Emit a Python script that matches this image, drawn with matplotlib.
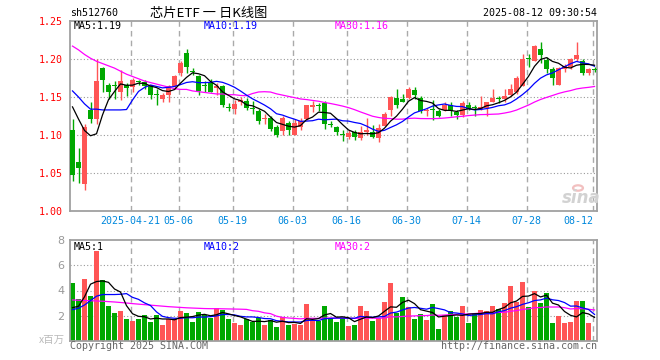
import matplotlib
matplotlib.use('Agg')
import matplotlib.pyplot as plt
import numpy as np
import pandas as pd
from matplotlib.transforms import blended_transform_factory
from matplotlib.patches import Circle

# ---------------- data ----------------
holidays = ['2025-05-01', '2025-05-02', '2025-05-05', '2025-06-02']
dates = [d.strftime('%Y-%m-%d') for d in pd.bdate_range('2025-04-07', '2025-08-12')
         if d.strftime('%Y-%m-%d') not in holidays]

opens = [1.107, 1.064, 1.036, 1.133, 1.121, 1.188, 1.166, 1.166, 1.157, 1.166,
         1.163, 1.171, 1.170, 1.164, 1.153, 1.147, 1.152, 1.164, 1.182, 1.208,
         1.184, 1.178, 1.165, 1.169, 1.162, 1.164, 1.136, 1.134, 1.144, 1.145,
         1.135, 1.132, 1.121, 1.122, 1.111, 1.105, 1.116, 1.100, 1.111, 1.121,
         1.1375, 1.139, 1.142, 1.114, 1.111, 1.101, 1.098, 1.104, 1.096, 1.104,
         1.104, 1.096, 1.112, 1.133, 1.149, 1.148, 1.149, 1.159, 1.149, 1.132,
         1.134, 1.131, 1.133, 1.140, 1.130, 1.126, 1.140, 1.136, 1.134, 1.136,
         1.144, 1.148, 1.147, 1.152, 1.157, 1.165, 1.201, 1.197, 1.213, 1.199,
         1.187, 1.166, 1.187, 1.190, 1.200, 1.198, 1.181, 1.187]
highs = [1.121, 1.083, 1.115, 1.144, 1.200, 1.190, 1.168, 1.171, 1.186, 1.168,
         1.175, 1.173, 1.173, 1.166, 1.160, 1.155, 1.166, 1.179, 1.197, 1.213,
         1.188, 1.179, 1.171, 1.174, 1.168, 1.166, 1.142, 1.146, 1.150, 1.149,
         1.145, 1.134, 1.127, 1.125, 1.113, 1.125, 1.118, 1.121, 1.122, 1.140,
         1.145, 1.142, 1.145, 1.118, 1.112, 1.107, 1.107, 1.107, 1.112, 1.122,
         1.113, 1.114, 1.130, 1.151, 1.161, 1.154, 1.163, 1.163, 1.151, 1.136,
         1.146, 1.134, 1.144, 1.144, 1.133, 1.145, 1.144, 1.139, 1.151, 1.144,
         1.160, 1.151, 1.160, 1.167, 1.177, 1.206, 1.206, 1.219, 1.223, 1.203,
         1.190, 1.189, 1.193, 1.201, 1.222, 1.200, 1.188, 1.190]
lows = [1.040, 1.037, 1.028, 1.116, 1.114, 1.157, 1.147, 1.147, 1.146, 1.151,
        1.157, 1.166, 1.160, 1.147, 1.140, 1.143, 1.144, 1.160, 1.177, 1.182,
        1.179, 1.153, 1.156, 1.156, 1.152, 1.137, 1.132, 1.127, 1.139, 1.133,
        1.128, 1.115, 1.115, 1.105, 1.097, 1.100, 1.100, 1.100, 1.107, 1.120,
        1.130, 1.132, 1.108, 1.110, 1.100, 1.092, 1.095, 1.093, 1.093, 1.100,
        1.096, 1.091, 1.112, 1.125, 1.136, 1.143, 1.147, 1.147, 1.129, 1.125,
        1.120, 1.124, 1.131, 1.125, 1.121, 1.124, 1.133, 1.125, 1.133, 1.125,
        1.143, 1.142, 1.143, 1.151, 1.154, 1.165, 1.190, 1.197, 1.195, 1.182,
        1.166, 1.166, 1.183, 1.187, 1.197, 1.179, 1.179, 1.183]
closes = [1.048, 1.057, 1.111, 1.121, 1.171, 1.172, 1.157, 1.165, 1.171, 1.162,
          1.173, 1.170, 1.164, 1.153, 1.152, 1.153, 1.164, 1.177, 1.195, 1.190,
          1.183, 1.158, 1.164, 1.157, 1.165, 1.140, 1.135, 1.141, 1.146, 1.136,
          1.134, 1.118, 1.122, 1.108, 1.100, 1.122, 1.106, 1.116, 1.118, 1.139,
          1.139, 1.138, 1.114, 1.113, 1.104, 1.100, 1.102, 1.098, 1.104, 1.106,
          1.098, 1.109, 1.128, 1.150, 1.139, 1.144, 1.161, 1.152, 1.131, 1.133,
          1.133, 1.125, 1.140, 1.131, 1.126, 1.142, 1.134, 1.135, 1.137, 1.144,
          1.149, 1.147, 1.151, 1.160, 1.175, 1.200, 1.200, 1.217, 1.205, 1.187,
          1.175, 1.188, 1.191, 1.200, 1.205, 1.181, 1.187, 1.186]
volumes = [4.56, 3.36, 4.88, 3.60, 7.15, 4.80, 2.80, 2.24, 2.40, 1.76,
           1.60, 1.76, 2.08, 1.52, 2.08, 1.28, 1.76, 1.76, 2.40, 2.24,
           1.52, 2.32, 2.08, 1.84, 2.64, 2.43, 1.76, 1.44, 1.28, 1.76,
           1.52, 1.84, 1.28, 1.68, 1.12, 1.92, 1.28, 1.36, 1.28, 2.96,
           1.68, 1.60, 2.80, 1.84, 1.52, 1.84, 1.20, 1.28, 2.80, 2.40,
           1.60, 1.84, 3.12, 4.56, 2.24, 3.52, 2.72, 1.76, 2.16, 1.68,
           2.96, 0.96, 2.08, 2.40, 1.92, 2.80, 1.44, 2.24, 2.48, 2.40,
           2.80, 2.56, 3.04, 4.32, 3.10, 4.64, 2.70, 4.00, 3.00, 3.84,
           1.44, 1.97, 1.44, 1.49, 3.20, 3.15, 1.44, 0.08]

# moving-average values read at the left edge (history before the window)
price_ma5_head = [1.137, 1.121, 1.106, 1.099]
price_ma10_head = [1.158, 1.150, 1.141, 1.134, 1.134, 1.133, 1.133, 1.133, 1.133]
price_ma30_head = [1.217, 1.212, 1.206, 1.201, 1.197, 1.194, 1.191, 1.188, 1.184, 1.180,
                   1.177, 1.174, 1.171, 1.169, 1.167, 1.165, 1.163, 1.161, 1.160, 1.160,
                   1.158, 1.157, 1.156, 1.155, 1.154, 1.154, 1.153, 1.153, 1.152]
vol_ma5_head = [2.64, 2.75, 3.50, 4.50]
vol_ma10_head = [2.48, 2.60, 2.85, 3.20, 3.55, 3.68, 3.68, 3.68, 3.70]
vol_ma30_head = [3.25, 3.23, 3.21, 3.19, 3.17, 3.15, 3.12, 3.09, 3.05, 3.01,
                 2.96, 2.92, 2.88, 2.84, 2.80, 2.76, 2.72, 2.69, 2.66, 2.63,
                 2.61, 2.59, 2.57, 2.56, 2.56, 2.55, 2.54, 2.53, 2.52]

tick_dates = ['2025-04-21', '2025-05-06', '2025-05-19', '2025-06-03', '2025-06-16',
              '2025-06-30', '2025-07-14', '2025-07-28', '2025-08-12']
tick_labels = ['2025-04-21', '05-06', '05-19', '06-03', '06-16',
               '06-30', '07-14', '07-28', '08-12']
price_ticks = [1.00, 1.05, 1.10, 1.15, 1.20, 1.25]
vol_ticks = [2, 4, 6, 8]

title = '芯片ETF 一 日K线图'
code = 'sh512760'
stamp = '2025-08-12 09:30:54'

# ---------------- helpers ----------------
def moving_avg(vals, n, head):
    v = np.asarray(vals, float)
    tail = [v[i - n + 1:i + 1].mean() for i in range(n - 1, len(v))]
    return np.array(list(head) + tail)

RED = '#ff5555'
GREEN = '#00a800'
MONO = 'DejaVu Sans Mono'
W, H = 660, 360

o = np.array(opens); h = np.array(highs); l = np.array(lows); c = np.array(closes)
v = np.array(volumes)
n = len(c)
x = np.arange(n)
up = c >= o
cols = np.where(up, RED, GREEN)

pma5 = moving_avg(c, 5, price_ma5_head)
pma10 = moving_avg(c, 10, price_ma10_head)
pma30 = moving_avg(c, 30, price_ma30_head)
vma5 = moving_avg(v, 5, vol_ma5_head)
vma10 = moving_avg(v, 10, vol_ma10_head)
vma30 = moving_avg(v, 30, vol_ma30_head)

fig = plt.figure(figsize=(W / 100, H / 100), dpi=100)
fig.patch.set_facecolor('white')

def px_rect(left, top, right, bottom):
    return [left / W, 1 - bottom / H, (right - left) / W, (bottom - top) / H]

ax = fig.add_axes(px_rect(70, 21, 597, 211))
axv = fig.add_axes(px_rect(70, 240, 597, 341))

xlim = (-2.5 / 6, 87 + 3.5 / 6 - 0.17)
tick_idx = [dates.index(d) for d in tick_dates]

for a in (ax, axv):
    a.set_xlim(*xlim)
    for s in a.spines.values():
        s.set_color('#a0a0a0')
        s.set_linewidth(1.3)
    a.set_xticks([])
    a.tick_params(axis='y', length=0)
    for t in tick_idx:
        a.axvline(t - 0.3, color='#aaaaaa', lw=1.0, ls=(0, (4, 3)), zorder=0)

# ---- price panel ----
ax.set_ylim(1.00, 1.25)
for yv in price_ticks[1:-1]:
    ax.axhline(yv, color='#999999', lw=0.8, ls=(0, (1, 2)), zorder=0)

ax.vlines(x, l, h, colors=cols, lw=1.0, zorder=2)
body_bottom = np.minimum(o, c)
body_h = np.maximum(np.abs(c - o), 0.0013)
ax.bar(x, body_h, bottom=body_bottom, width=5 / 6, color=cols, linewidth=0, zorder=3)

ax.plot(x, pma30, color='#ff00ff', lw=0.9, zorder=4)
ax.plot(x, pma10, color='#0000ff', lw=0.9, zorder=4)
ax.plot(x, pma5, color='black', lw=0.9, zorder=4)

ax.set_yticks(price_ticks)
ax.set_yticklabels(['%.2f' % t for t in price_ticks], color='#ff0000',
                   fontsize=7.2, family=MONO)
ax.tick_params(axis='y', pad=5)

trans = blended_transform_factory(ax.transData, ax.transAxes)
for k, (t, lab) in enumerate(zip(tick_idx, tick_labels)):
    ha = 'right' if k == len(tick_idx) - 1 else 'center'
    ax.text(t - 0.3 + (0 if ha == 'center' else 0.1), -10 / 190, lab, transform=trans,
            ha=ha, va='center', color='#0088dd', fontsize=7.2, family=MONO)

# sina watermark
fig.text(581 / W, 1 - 198 / H, 'sina', ha='center', va='center', color='#d2d2d2',
         fontsize=12, fontweight='bold', style='italic', family='DejaVu Sans')
fig.patches.append(Circle((578 / W, 1 - 188 / H), 0.0075, transform=fig.transFigure,
                          facecolor='none', edgecolor='#f2c0c0', lw=1.6))

# ---- volume panel ----
axv.set_ylim(0, 8)
for yv in vol_ticks[:-1]:
    axv.axhline(yv, color='#999999', lw=0.8, ls=(0, (1, 2)), zorder=0)
axv.bar(x, v, width=5 / 6, color=cols, linewidth=0, zorder=2)
axv.plot(x, vma30, color='#ff00ff', lw=0.9, zorder=4)
axv.plot(x, vma10, color='#0000ff', lw=0.9, zorder=4)
axv.plot(x, vma5, color='black', lw=0.9, zorder=4)
axv.set_yticks(vol_ticks)
axv.set_yticklabels([str(t) for t in vol_ticks], color='#999999', fontsize=8,
                    family='DejaVu Sans')
axv.tick_params(axis='y', pad=4)

# ---- texts ----
fig.text(70 / W, 1 - 12.5 / H, code, ha='left', va='center', fontsize=7.2, family=MONO)
fig.text(209 / W, 1 - 13 / H, title, ha='center', va='center', fontsize=9.5,
         family=['Noto Sans CJK SC', 'DejaVu Sans'])
fig.text(597 / W, 1 - 12.5 / H, stamp, ha='right', va='center', fontsize=7.2, family=MONO)

fig.text(74 / W, 1 - 26 / H, 'MA5:%.2f' % pma5[-1], ha='left', va='center',
         fontsize=7.2, family=MONO, color='black')
fig.text(204 / W, 1 - 26 / H, 'MA10:%.2f' % pma10[-1], ha='left', va='center',
         fontsize=7.2, family=MONO, color='#0000ff')
fig.text(335 / W, 1 - 26 / H, 'MA30:%.2f' % pma30[-1], ha='left', va='center',
         fontsize=7.2, family=MONO, color='#ff00ff')

fig.text(74 / W, 1 - 246.5 / H, 'MA5:%d' % int(vma5[-1]), ha='left', va='center',
         fontsize=7.2, family=MONO, color='black')
fig.text(204 / W, 1 - 246.5 / H, 'MA10:%d' % int(vma10[-1]), ha='left', va='center',
         fontsize=7.2, family=MONO, color='#0000ff')
fig.text(335 / W, 1 - 246.5 / H, 'MA30:%d' % int(vma30[-1]), ha='left', va='center',
         fontsize=7.2, family=MONO, color='#ff00ff')

fig.text(65 / W, 1 - 340 / H, 'x百万', ha='right', va='center', fontsize=7.5,
         color='#bbbbbb', family=['Noto Sans CJK SC', 'DejaVu Sans'])
fig.text(70 / W, 1 - 346 / H, 'Copyright 2025 SINA.COM', ha='left', va='center',
         fontsize=7.2, family=MONO, color='#666666')
fig.text(597 / W, 1 - 346 / H, 'http://finance.sina.com.cn', ha='right', va='center',
         fontsize=7.2, family=MONO, color='#666666')

fig.savefig('out.png', dpi=100, facecolor='white')
